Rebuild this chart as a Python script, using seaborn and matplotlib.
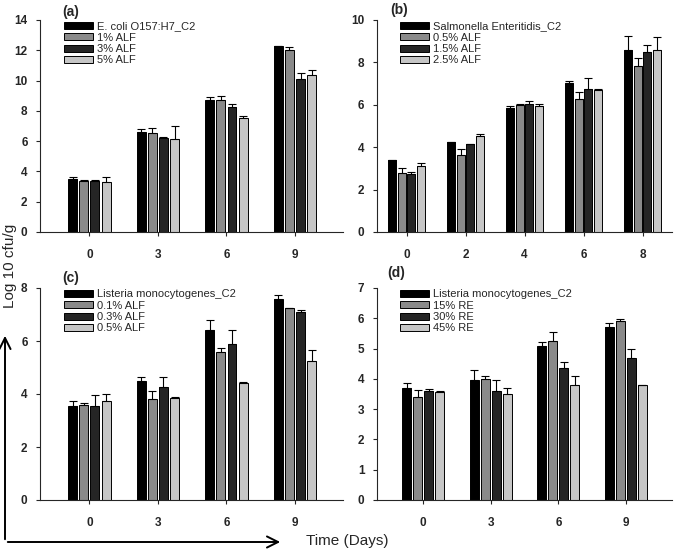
import numpy as np
import pandas as pd
import matplotlib
matplotlib.use("Agg")
import matplotlib.pyplot as plt
import seaborn as sns

# panel (a) E. coli, ALF
days_a = ["0", "3", "6", "9"]
groups_a = ["E. coli O157:H7_C2", "1% ALF", "3% ALF", "5% ALF"]
mean_a = [[3.5, 6.6, 8.7, 12.25],
          [3.4, 6.55, 8.7, 12.0],
          [3.4, 6.2, 8.25, 10.1],
          [3.3, 6.15, 7.55, 10.4]]
err_a = [[0.1, 0.2, 0.2, 0.0],
         [0.05, 0.3, 0.25, 0.2],
         [0.02, 0.1, 0.2, 0.4],
         [0.35, 0.85, 0.1, 0.3]]

# panel (b) Salmonella, ALF
days_b = ["0", "2", "4", "6", "8"]
groups_b = ["Salmonella Enteritidis_C2", "0.5% ALF", "1.5% ALF", "2.5% ALF"]
mean_b = [[3.4, 4.25, 5.85, 7.05, 8.6],
          [2.8, 3.65, 6.0, 6.25, 7.85],
          [2.75, 4.15, 6.05, 6.75, 8.5],
          [3.1, 4.55, 5.95, 6.7, 8.6]]
err_b = [[0.0, 0.0, 0.1, 0.08, 0.65],
         [0.2, 0.25, 0.03, 0.35, 0.35],
         [0.08, 0.02, 0.12, 0.5, 0.3],
         [0.15, 0.05, 0.07, 0.03, 0.6]]

# panel (c) Listeria, ALF
days_c = ["0", "3", "6", "9"]
groups_c = ["Listeria monocytogenes_C2", "0.1% ALF", "0.3% ALF", "0.5% ALF"]
mean_c = [[3.55, 4.5, 6.4, 7.6],
          [3.6, 3.8, 5.6, 7.25],
          [3.55, 4.25, 5.9, 7.1],
          [3.75, 3.85, 4.4, 5.25]]
err_c = [[0.2, 0.15, 0.4, 0.15],
         [0.05, 0.3, 0.15, 0.0],
         [0.4, 0.4, 0.5, 0.08],
         [0.25, 0.02, 0.05, 0.4]]

# panel (d) Listeria, RE
days_d = ["0", "3", "6", "9"]
groups_d = ["Listeria monocytogenes_C2", "15% RE", "30% RE", "45% RE"]
mean_d = [[3.7, 3.95, 5.1, 5.7],
          [3.4, 4.0, 5.25, 5.9],
          [3.6, 3.6, 4.35, 4.7],
          [3.55, 3.5, 3.8, 3.8]]
err_d = [[0.15, 0.35, 0.12, 0.15],
         [0.22, 0.08, 0.3, 0.07],
         [0.08, 0.35, 0.22, 0.3],
         [0.05, 0.2, 0.28, 0.01]]

bar_colors = ["#000000", "#8a8a8a", "#252525", "#c6c6c6"]

sns.set_style("ticks")
plt.rcParams["font.family"] = ["Liberation Sans", "DejaVu Sans"]

fig = plt.figure(figsize=(6.77, 5.49), dpi=100)

W, H = 677.0, 549.0


def px_axes(left, top, right, bottom):
    return fig.add_axes([left / W, 1 - bottom / H, (right - left) / W, (bottom - top) / H])


def draw_panel(ax, days, groups, means, errs, ymax, yticks, xlim):
    rows = []
    for g, m_row in zip(groups, means):
        for d, m in zip(days, m_row):
            rows.append({"day": d, "group": g, "value": m})
    df = pd.DataFrame(rows)
    sns.barplot(data=df, x="day", y="value", hue="group", order=days,
                hue_order=groups, palette=bar_colors, width=0.65, gap=0.2,
                edgecolor="black", linewidth=0.7, errorbar=None,
                saturation=1, ax=ax)
    # upward-only error bars on top of each bar
    for cont, m_row, e_row in zip(ax.containers, means, errs):
        xs = [p.get_x() + p.get_width() / 2 for p in cont.patches]
        e = np.array(e_row)
        ax.errorbar(xs, m_row, yerr=[np.zeros_like(e), e], fmt="none",
                    ecolor="black", elinewidth=0.8, capsize=3, capthick=0.8)
    ax.set_xlim(*xlim)
    ax.set_ylim(0, ymax)
    ax.set_yticks(yticks)
    ax.set_xlabel("")
    ax.set_ylabel("")
    sns.despine(ax=ax)
    for s in ["left", "bottom"]:
        ax.spines[s].set_linewidth(0.8)
    ax.tick_params(axis="both", length=3, width=0.8, labelsize=8.5, pad=6)
    ax.tick_params(axis="x", pad=9)
    for lab in ax.get_xticklabels() + ax.get_yticklabels():
        lab.set_fontweight("bold")
    leg = ax.legend(loc="upper left", bbox_to_anchor=(0.06, 1.02), frameon=False,
                    fontsize=8, handlelength=2.6, handleheight=0.6,
                    labelspacing=0.12, handletextpad=0.35, borderpad=0)
    return leg


ax_a = px_axes(40, 20, 343, 232)
ax_b = px_axes(377, 20, 672, 232)
ax_c = px_axes(40, 288, 343, 500)
ax_d = px_axes(377, 288, 672, 500)

draw_panel(ax_a, days_a, groups_a, mean_a, err_a, 14, range(0, 15, 2), (-0.72, 3.7))
draw_panel(ax_b, days_b, groups_b, mean_b, err_b, 10, range(0, 11, 2), (-0.5, 4.5))
draw_panel(ax_c, days_c, groups_c, mean_c, err_c, 8, range(0, 9, 2), (-0.72, 3.7))
draw_panel(ax_d, days_d, groups_d, mean_d, err_d, 7, range(0, 8, 1), (-0.68, 3.68))

# panel letters
for txt, x, y in [("(a)", 62, 12), ("(b)", 390, 10), ("(c)", 62, 278), ("(d)", 387, 273)]:
    fig.text(x / W, 1 - y / H, txt, fontsize=10, fontweight="bold", ha="left", va="center")

# axis arrows and shared labels
fig.patches.append(matplotlib.patches.FancyArrowPatch(
    (5 / W, 1 - 542 / H), (5 / W, 1 - 333 / H), transform=fig.transFigure,
    arrowstyle="->", mutation_scale=20, lw=1.4, color="black"))
fig.patches.append(matplotlib.patches.FancyArrowPatch(
    (5 / W, 1 - 542 / H), (283 / W, 1 - 542 / H), transform=fig.transFigure,
    arrowstyle="->", mutation_scale=20, lw=1.4, color="black"))
fig.text(10 / W, 1 - 266 / H, "Log 10 cfu/g", rotation=90, fontsize=11,
         ha="center", va="center")
fig.text(306 / W, 1 - 541 / H, "Time (Days)", fontsize=11, ha="left", va="center")

fig.savefig("out.png", dpi=100)
